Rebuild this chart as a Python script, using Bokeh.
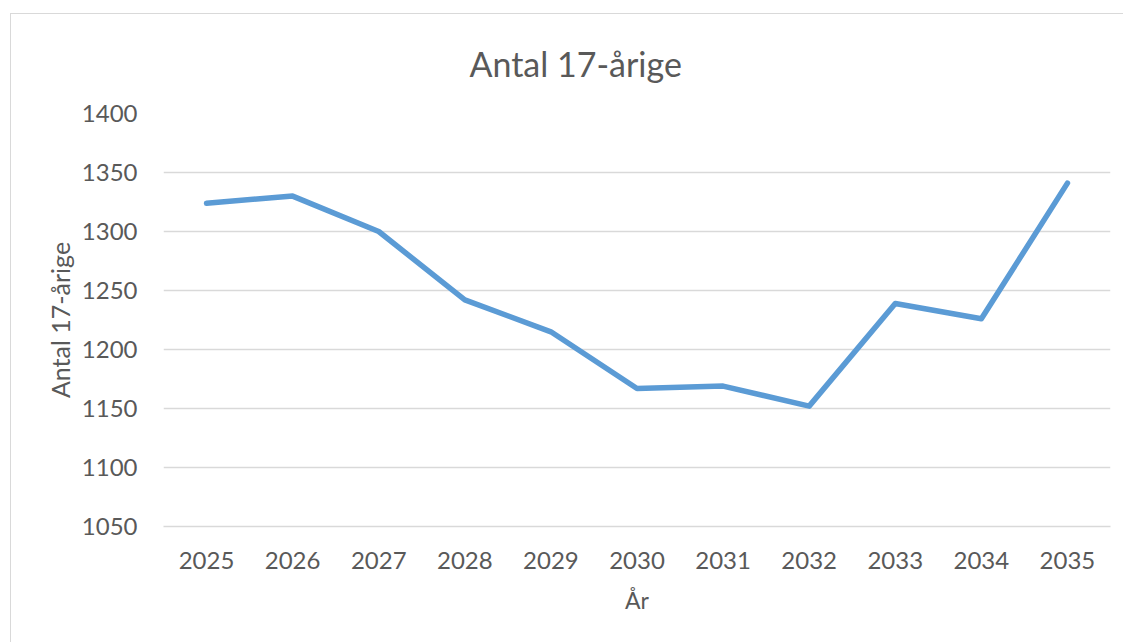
from bokeh.plotting import figure
from bokeh.models import Range1d, FactorRange
from bokeh.embed import file_html
from bokeh.resources import INLINE

years = ["2025", "2026", "2027", "2028", "2029", "2030", "2031", "2032", "2033", "2034", "2035"]
antal = [1324, 1330, 1300, 1242, 1215, 1167, 1169, 1152, 1239, 1226, 1341]
y_ticks = [1050, 1100, 1150, 1200, 1250, 1300, 1350, 1400]
title_text = "Antal 17-årige"

TXT = "#595959"
GRID = "#d9d9d9"
FONT = "Lato"

p = figure(width=1113, height=629, output_backend="svg", toolbar_location=None,
           x_range=FactorRange(*years), y_range=Range1d(1050, 1400),
           min_border_left=152, min_border_right=14, min_border_top=98, min_border_bottom=117,
           title=title_text)
p.styles = {"margin-left": "10px", "margin-top": "13px",
            "border-left": "1px solid #d9d9d9", "border-top": "1px solid #d9d9d9"}

p.line(years, antal, line_color="#5b9bd5", line_width=5.5, line_cap="round", line_join="round")

p.outline_line_color = None
p.xgrid.grid_line_color = None
p.ygrid.grid_line_color = GRID
p.ygrid.grid_line_width = 1.5
p.yaxis.ticker = y_ticks

for ax in (p.xaxis[0], p.yaxis[0]):
    ax.major_tick_line_color = None
    ax.minor_tick_line_color = None
    ax.major_label_text_color = TXT
    ax.major_label_text_font = FONT
    ax.major_label_text_font_size = "24px"
    ax.axis_label_text_color = TXT
    ax.axis_label_text_font = FONT
    ax.axis_label_text_font_style = "normal"
p.yaxis.axis_line_color = None
p.xaxis.axis_line_color = GRID
p.xaxis.axis_line_width = 1.5
p.yaxis.major_label_standoff = 20
p.xaxis.major_label_standoff = 19
p.xaxis.axis_label = "År"
p.yaxis.axis_label = "Antal 17-årige"
p.xaxis.axis_label_text_font_size = "23px"
p.yaxis.axis_label_text_font_size = "25px"
p.xaxis.axis_label_standoff = 14
p.yaxis.axis_label_standoff = 4

p.title.text_font = FONT
p.title.text_font_size = "34px"
p.title.text_font_style = "normal"
p.title.text_color = TXT
p.title.align = "left"
p.title.offset = 306
p.title.standoff = 56
p.title.vertical_align = "top"

open("out.html", "w").write(file_html(p, INLINE))
